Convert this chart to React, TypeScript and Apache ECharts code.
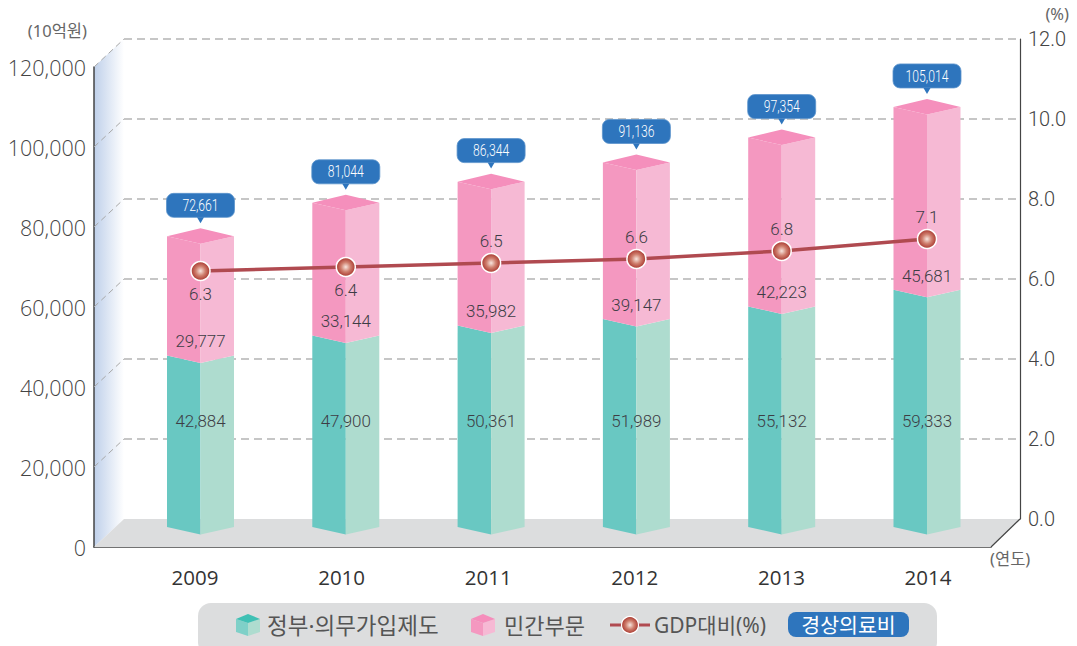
import React, { useEffect, useRef } from "react";
import * as echarts from "echarts";

const categories = ["2009", "2010", "2011", "2012", "2013", "2014"];
const government = [42884, 47900, 50361, 51989, 55132, 59333];
const privateSector = [29777, 33144, 35982, 39147, 42223, 45681];
const totals = [72661, 81044, 86344, 91136, 97354, 105014];
const gdpRatio = [6.3, 6.4, 6.5, 6.6, 6.8, 7.1];
const leftTicks = [20000, 40000, 60000, 80000, 100000, 120000];

const LEFT_AXIS_NAME = "(10억원)";
const RIGHT_AXIS_NAME = "(%)";
const X_AXIS_NAME = "(연도)";
const LEGEND_GOV = "정부·의무가입제도";
const LEGEND_PRIV = "민간부문";
const LEGEND_GDP = "GDP대비(%)";
const LEGEND_TOTAL = "경상의료비";

const SANS = "Roboto, 'Noto Sans CJK KR', sans-serif";
const WIDE = "'Open Sans', 'Noto Sans', sans-serif";
const CJK = "'Noto Sans', 'Noto Sans CJK KR', sans-serif";
const HW = 33.5;
const DEPTH = 7.5;
const fmt = (v: number) => v.toLocaleString("en-US");

const ball = () =>
  new echarts.graphic.RadialGradient(0.5, 0.5, 0.5, [
    { offset: 0, color: "#f8e6df" },
    { offset: 0.5, color: "#cf7f6e" },
    { offset: 1, color: "#a8362e" },
  ]);

function poly(points: number[][], fill: string, z?: number) {
  const el: any = { type: "polygon", shape: { points }, style: { fill } };
  if (z !== undefined) el.z = z;
  return el;
}

function prism(api: any, base: number, top: number, left: string, right: string) {
  const x = api.coord([api.value(0), 0])[0];
  const y0 = api.coord([0, base])[1];
  const y1 = api.coord([0, top])[1];
  return [
    poly([[x - HW, y0], [x, y0 + DEPTH], [x, y1 + DEPTH], [x - HW, y1]], left),
    poly([[x, y0 + DEPTH], [x + HW, y0], [x + HW, y1], [x, y1 + DEPTH]], right),
  ];
}

function valueText(x: number, y: number, v: number) {
  return {
    type: "text",
    x,
    y,
    scaleX: 1.06,
    style: {
      text: fmt(v),
      fill: "#3d3d45",
      fontFamily: SANS,
      fontSize: 16,
      fontWeight: 300,
      align: "center",
      verticalAlign: "middle",
    },
  };
}

function cube(x: number, y: number, left: string, right: string, top: string) {
  return {
    type: "group",
    children: [
      poly([[x, y + 5], [x + 12, y + 9], [x + 12, y + 22], [x, y + 18]], left, 6),
      poly([[x + 12, y + 9], [x + 24, y + 5], [x + 24, y + 18], [x + 12, y + 22]], right, 6),
      poly([[x, y + 5], [x + 12, y], [x + 24, y + 5], [x + 12, y + 9]], top, 6),
    ],
  };
}

function gText(text: string, x: number, y: number, fontSize: number, fill: string, align = "left") {
  return {
    type: "text",
    x,
    y,
    z: 6,
    style: { text, fill, fontSize, fontFamily: CJK, align, verticalAlign: "middle" },
  };
}

export default function App() {
  const ref = useRef<HTMLDivElement>(null);

  useEffect(() => {
    document.body.style.margin = "0";
    const chart = echarts.init(ref.current!, undefined, { renderer: "svg" });

    const sideDashes = leftTicks.map((v) => {
      const y = 547 - v * 0.004;
      return {
        type: "line",
        z: 1,
        shape: { x1: 94, y1: y, x2: 124, y2: y - 28 },
        style: { stroke: "#a8a8a8", lineWidth: 1, lineDash: [6, 4] },
      };
    });

    chart.setOption({
      animation: false,
      grid: [
        { left: 94, width: 897, top: 67, height: 480 }, // front axes
        { left: 127.85, width: 871.8, top: 47, height: 480 }, // bars
        { left: 121.7, width: 879.6, top: 67, height: 480 }, // year labels
        { left: 124, width: 896, top: 39, height: 480 }, // back wall, right axis
        { left: 127.85, width: 871.8, top: 43, height: 480 }, // ratio line
      ],
      xAxis: [
        {
          gridIndex: 0,
          type: "category",
          data: categories,
          axisLine: { lineStyle: { color: "#444", width: 1.5 } },
          axisTick: { show: false },
          axisLabel: { show: false },
        },
        { gridIndex: 1, type: "category", data: categories, show: false },
        {
          gridIndex: 2,
          type: "category",
          data: categories,
          axisLine: { show: false },
          axisTick: { show: false },
          axisLabel: {
            margin: 19,
            color: "#333",
            fontSize: 20.5,
            fontFamily: WIDE,
            fontWeight: 400,
          },
        },
        { gridIndex: 3, type: "category", data: categories, show: false },
        { gridIndex: 4, type: "category", data: categories, show: false },
      ],
      yAxis: [
        {
          gridIndex: 0,
          type: "value",
          min: 0,
          max: 120000,
          interval: 20000,
          splitLine: { show: false },
          axisLine: { show: true, lineStyle: { color: "#444", width: 1.5 } },
          axisTick: { show: false },
          axisLabel: {
            margin: 8,
            color: "#444",
            fontSize: 21.5,
            fontWeight: 300,
            fontFamily: WIDE,
            formatter: (v: number) => fmt(v),
          },
        },
        { gridIndex: 1, type: "value", min: 0, max: 120000, show: false },
        { gridIndex: 2, type: "value", min: 0, max: 120000, show: false },
        {
          gridIndex: 3,
          type: "value",
          position: "right",
          min: 0,
          max: 12,
          interval: 2,
          splitLine: {
            show: true,
            showMinLine: false,
            lineStyle: { color: "#b4b4b4", width: 1.5, type: [8, 5] },
          },
          axisLine: { show: true, lineStyle: { color: "#444", width: 1.2 } },
          axisTick: { show: false },
          axisLabel: {
            margin: 8,
            color: "#444",
            fontSize: 20,
            fontWeight: 300,
            fontFamily: SANS,
            formatter: (v: number) => v.toFixed(1),
          },
        },
        { gridIndex: 4, type: "value", min: 0, max: 12, show: false },
      ],
      graphic: {
        elements: [
          {
            type: "polygon",
            z: -1,
            shape: { points: [[94, 67], [124, 39], [124, 519], [94, 547]] },
            style: {
              fill: new echarts.graphic.LinearGradient(0, 0, 1, 0, [
                { offset: 0, color: "#bfd0ea" },
                { offset: 1, color: "#ffffff" },
              ]),
            },
          },
          {
            type: "polygon",
            z: 1,
            shape: { points: [[94, 547], [124, 519], [1020, 519], [991, 547]] },
            style: { fill: "#dcddde" },
          },
          {
            type: "line",
            z: 1,
            shape: { x1: 991, y1: 547, x2: 1020, y2: 519 },
            style: { stroke: "#444", lineWidth: 1.2 },
          },
          ...sideDashes,
          gText(LEFT_AXIS_NAME, 87, 30, 16.5, "#666", "right"),
          gText(RIGHT_AXIS_NAME, 1069, 13, 16.5, "#666", "right"),
          gText(X_AXIS_NAME, 990, 558, 16.5, "#666"),
          {
            type: "rect",
            z: 5,
            shape: { x: 198, y: 603, width: 739, height: 52, r: 13 },
            style: { fill: "#dcddde" },
          },
          cube(236, 614, "#7fd0c8", "#aedccf", "#3fc0b4"),
          gText(LEGEND_GOV, 267, 625, 22.5, "#555"),
          cube(471, 614, "#f498c0", "#f6b9d4", "#f58dbb"),
          gText(LEGEND_PRIV, 504, 625, 22, "#555"),
          {
            type: "line",
            z: 6,
            shape: { x1: 610, y1: 625, x2: 650, y2: 625 },
            style: { stroke: "#b04a50", lineWidth: 3 },
          },
          {
            type: "circle",
            z: 7,
            shape: { cx: 630, cy: 625, r: 8.5 },
            style: { fill: ball(), stroke: "#fff", lineWidth: 1.2 },
          },
          gText(LEGEND_GDP, 654, 625, 21, "#555"),
          {
            type: "rect",
            z: 6,
            shape: { x: 788, y: 612, width: 121, height: 25, r: 8 },
            style: { fill: "#2e75bd" },
          },
          gText(LEGEND_TOTAL, 848.5, 625, 20.5, "#fff", "center"),
        ],
      },
      series: [
        {
          name: LEGEND_GOV,
          type: "custom",
          xAxisIndex: 1,
          yAxisIndex: 1,
          z: 3,
          data: categories.map((c, i) => [c, government[i]]),
          encode: { x: 0, y: 1 },
          renderItem: (_p: any, api: any) => {
            const v = api.value(1);
            const x = api.coord([api.value(0), 0])[0];
            return {
              type: "group",
              children: [
                ...prism(api, 0, v, "#69c8c2", "#aedccf"),
                valueText(x, 421.5, v),
              ],
            };
          },
        },
        {
          name: LEGEND_PRIV,
          type: "custom",
          xAxisIndex: 1,
          yAxisIndex: 1,
          z: 4,
          data: categories.map((c, i) => [c, government[i], privateSector[i]]),
          encode: { x: 0, y: 1 },
          renderItem: (_p: any, api: any) => {
            const base = api.value(1);
            const v = api.value(2);
            const top = base + v;
            const x = api.coord([api.value(0), 0])[0];
            const yBase = api.coord([0, base])[1];
            const yTop = api.coord([0, top])[1];
            return {
              type: "group",
              children: [
                ...prism(api, base, top, "#f498c0", "#f6b9d4"),
                poly(
                  [[x - HW, yTop], [x, yTop - 8], [x + HW, yTop], [x, yTop + DEPTH]],
                  "#f58fbc"
                ),
                valueText(x, yBase + DEPTH - 21, v),
              ],
            };
          },
        },
        {
          name: LEGEND_GDP,
          type: "line",
          xAxisIndex: 4,
          yAxisIndex: 4,
          z: 8,
          symbol: "circle",
          symbolSize: 19,
          lineStyle: { color: "#b04a50", width: 3.5 },
          itemStyle: { color: ball(), borderColor: "#fff", borderWidth: 1.5 },
          data: gdpRatio.map((v, i) => ({
            value: v,
            label: { position: i < 2 ? "bottom" : "top", distance: i < 2 ? 4 : 3 },
          })),
          label: {
            show: true,
            color: "#3d3d45",
            fontSize: 17,
            fontWeight: 300,
            fontFamily: SANS,
            formatter: (p: any) => p.value.toFixed(1),
          },
        },
        {
          name: LEGEND_TOTAL,
          type: "custom",
          xAxisIndex: 1,
          yAxisIndex: 1,
          z: 9,
          data: categories.map((c, i) => [c, totals[i]]),
          encode: { x: 0, y: 1 },
          renderItem: (_p: any, api: any) => {
            const v = api.value(1);
            const x = api.coord([api.value(0), 0])[0];
            const y = api.coord([0, v])[1] - 8;
            return {
              type: "group",
              children: [
                {
                  type: "rect",
                  shape: { x: x - 34, y: y - 35, width: 68, height: 24, r: 7 },
                  style: { fill: "#2e75bd", stroke: "#5a93cc", lineWidth: 0.8 },
                },
                poly([[x - 3.5, y - 11], [x + 3.5, y - 11], [x, y - 5]], "#2e75bd"),
                {
                  type: "text",
                  x,
                  y: y - 23,
                  scaleX: 0.76,
                  style: {
                    text: fmt(v),
                    fill: "#fff",
                    fontFamily: SANS,
                    fontSize: 16,
                    fontWeight: 300,
                    align: "center",
                    verticalAlign: "middle",
                  },
                },
              ],
            };
          },
        },
      ],
    });
    return () => chart.dispose();
  }, []);

  return (
    <div
      ref={ref}
      style={{ position: "fixed", left: 0, top: 0, width: 1077, height: 646, background: "#fff" }}
    />
  );
}
